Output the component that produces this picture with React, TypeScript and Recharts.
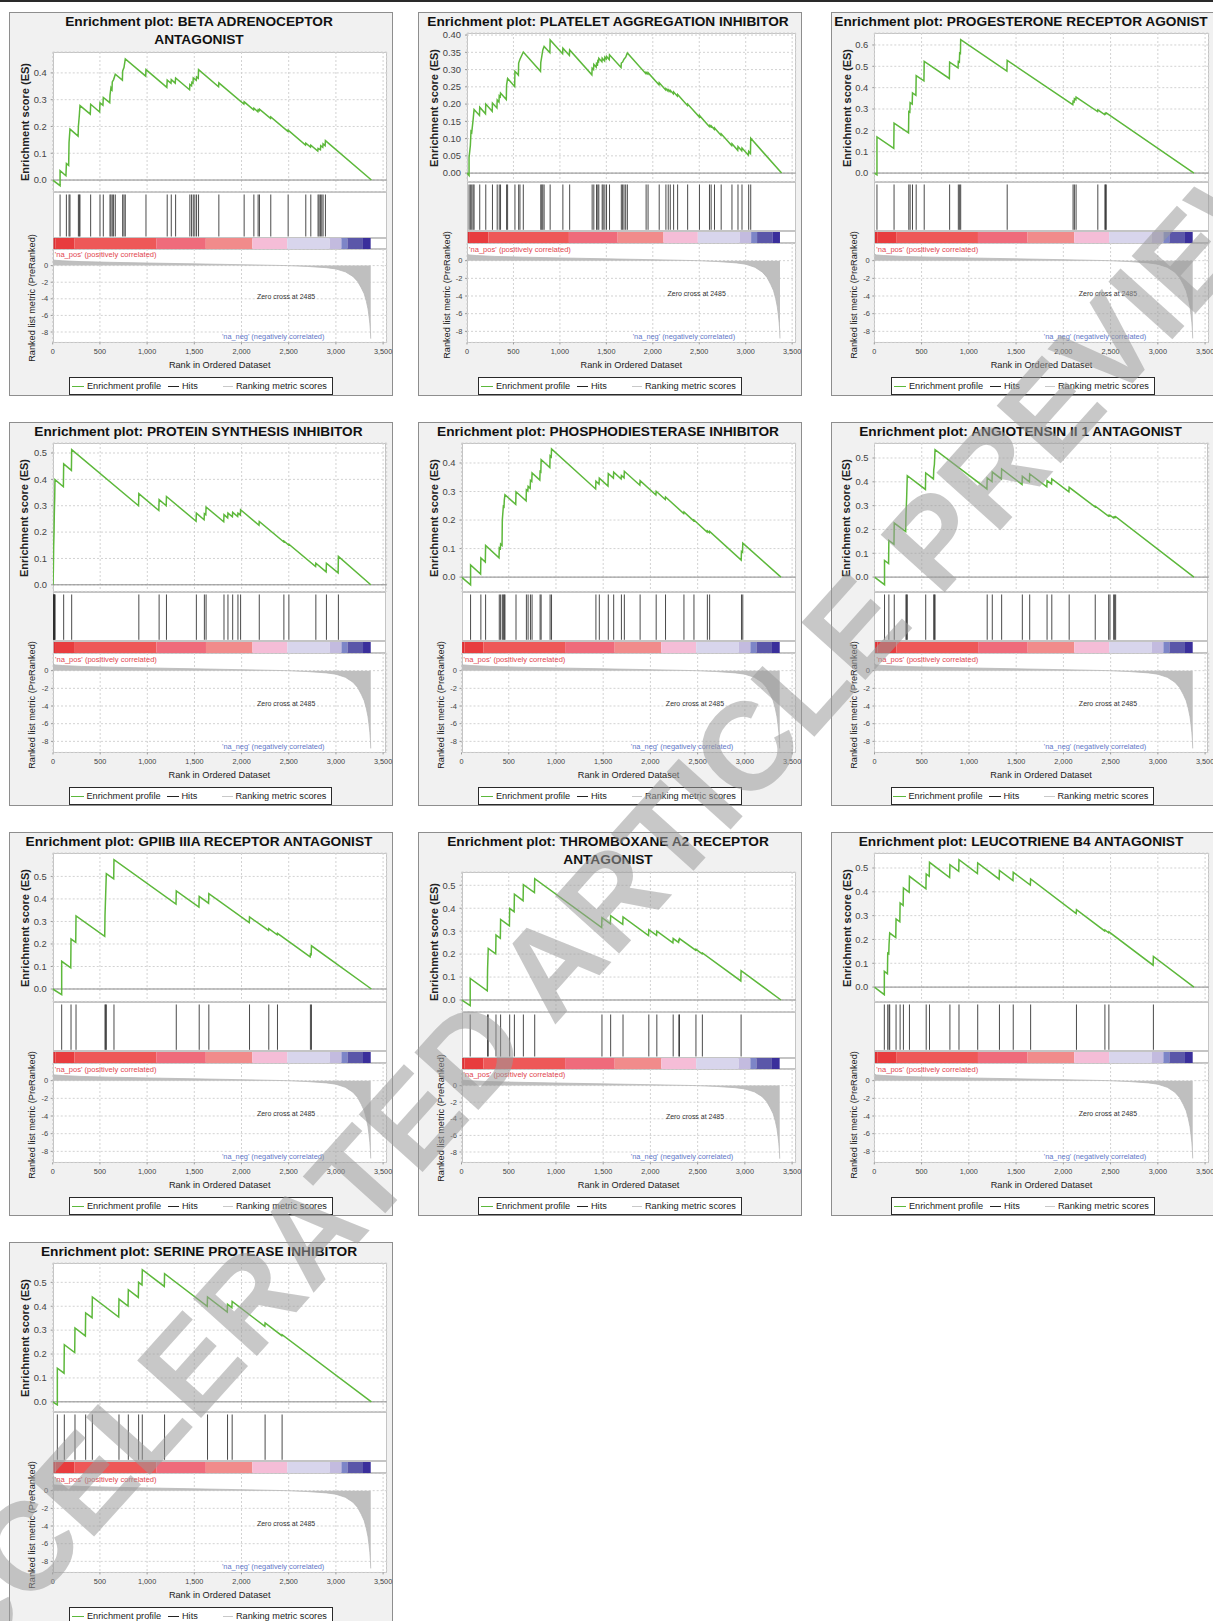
import React from 'react';
import {
  LineChart, Line, XAxis, YAxis, CartesianGrid, ReferenceLine, ReferenceDot,
  ScatterChart, Scatter, BarChart, Bar, AreaChart, Area,
} from 'recharts';

const FONT = '"Liberation Sans", Arial, Helvetica, sans-serif';

// ---------- shared axes / ranked list ----------
const rankTicks = [0, 500, 1000, 1500, 2000, 2500, 3000, 3500];
const rankDomain: [number, number] = [0, 3538];
const metricTicks = [0, -2, -4, -6, -8];
const metricDomain: [number, number] = [-9.25, 2];

const rankedMetric = [
  [0, 0.78], [20, 0.65], [100, 0.58], [300, 0.48], [600, 0.4], [1000, 0.31], [1500, 0.21],
  [2000, 0.11], [2485, 0], [2700, -0.1], [2900, -0.25], [3000, -0.4], [3100, -0.75],
  [3180, -1.3], [3230, -1.9], [3270, -2.7], [3300, -3.4], [3323, -4.3], [3340, -5.2],
  [3351, -6.1], [3360, -7.0], [3366, -7.9], [3369, -8.8],
];

const colorBarEdges = [0, 25, 226, 1093, 1619, 2113, 2483, 2935, 3058, 3122, 3287, 3369];
const colorBarFills = ['#dc2f33', '#e83c3e', '#ee5858', '#ef6b7b', '#f18b8b', '#f5bdd7', '#d8d5ec', '#c3bbdf', '#7d85c7', '#5b57a9', '#3a2f9b'];

const watermarkText = 'ACCELERATED ARTICLE PREVIEW';

// ---------- enrichment profiles (rank, ES) and hits ----------
const betaEs = [
  [0, 0], [78, -0.021], [78, 0.035], [140, 0.016], [145, 0.062], [169, 0.055], [173, 0.14], [183, 0.19],
  [269, 0.164], [272, 0.2], [282, 0.242], [289, 0.278], [398, 0.246], [402, 0.283], [497, 0.254], [501, 0.288],
  [532, 0.279], [536, 0.308], [604, 0.289], [607, 0.317], [617, 0.345], [628, 0.338], [631, 0.366], [645, 0.375],
  [663, 0.395], [738, 0.373], [741, 0.407], [755, 0.42], [769, 0.452], [985, 0.388], [988, 0.412], [1209, 0.346],
  [1213, 0.373], [1253, 0.361], [1256, 0.375], [1298, 0.362], [1302, 0.381], [1450, 0.337], [1453, 0.357],
  [1471, 0.352], [1474, 0.365], [1486, 0.362], [1489, 0.381], [1521, 0.372], [1524, 0.385], [1542, 0.38],
  [1545, 0.412], [1757, 0.348], [1760, 0.363], [2025, 0.284], [2028, 0.292], [2128, 0.262], [2131, 0.268],
  [2173, 0.255], [2176, 0.262], [2187, 0.259], [2190, 0.265], [2307, 0.23], [2310, 0.236], [2491, 0.182],
  [2494, 0.186], [2678, 0.131], [2681, 0.138], [2731, 0.123], [2734, 0.13], [2808, 0.108], [2811, 0.118],
  [2836, 0.113], [2839, 0.128], [2861, 0.122], [2864, 0.135], [2886, 0.128], [2889, 0.147], [3376, 0],
];
const betaHits = [78, 145, 173, 183, 272, 282, 289, 402, 501, 536, 607, 617, 631, 645, 663, 741, 755, 769, 988, 1213, 1256, 1302, 1453, 1471, 1489, 1506, 1524, 1545, 1760, 2028, 2131, 2176, 2190, 2310, 2494, 2681, 2734, 2811, 2822, 2836, 2850, 2864, 2889];

const plateletEs = [
  [0, 0], [22, -0.007], [22, 0.045], [36, 0.08], [43, 0.121], [51, 0.118], [65, 0.153], [76, 0.184],
  [134, 0.167], [137, 0.191], [199, 0.172], [202, 0.2], [271, 0.179], [274, 0.203], [322, 0.189], [325, 0.212],
  [344, 0.206], [347, 0.224], [358, 0.221], [361, 0.232], [423, 0.213], [426, 0.255], [437, 0.274], [513, 0.251],
  [516, 0.295], [553, 0.284], [556, 0.319], [570, 0.33], [606, 0.351], [791, 0.295], [794, 0.32], [805, 0.338],
  [816, 0.357], [830, 0.367], [892, 0.349], [895, 0.386], [1029, 0.346], [1032, 0.362], [1102, 0.341],
  [1105, 0.357], [1344, 0.285], [1347, 0.304], [1362, 0.3], [1365, 0.315], [1391, 0.307], [1394, 0.318],
  [1405, 0.315], [1408, 0.325], [1416, 0.323], [1419, 0.333], [1452, 0.323], [1455, 0.333], [1481, 0.325],
  [1484, 0.336], [1499, 0.331], [1502, 0.338], [1531, 0.329], [1534, 0.343], [1658, 0.306], [1661, 0.319],
  [1675, 0.322], [1690, 0.33], [1708, 0.336], [1726, 0.348], [1925, 0.288], [1928, 0.292], [1946, 0.287],
  [1949, 0.291], [2066, 0.256], [2069, 0.262], [2138, 0.241], [2141, 0.245], [2163, 0.238], [2166, 0.242],
  [2185, 0.236], [2188, 0.24], [2221, 0.23], [2224, 0.235], [2264, 0.223], [2267, 0.228], [2372, 0.196],
  [2375, 0.2], [2499, 0.163], [2502, 0.167], [2607, 0.135], [2610, 0.138], [2625, 0.134], [2628, 0.137],
  [2661, 0.127], [2664, 0.131], [2733, 0.11], [2736, 0.114], [2849, 0.08], [2852, 0.085], [2914, 0.066],
  [2917, 0.077], [2957, 0.065], [2960, 0.073], [3029, 0.052], [3032, 0.063], [3051, 0.057], [3054, 0.101], [3386, 0],
];
const plateletHits = [22, 36, 51, 65, 76, 137, 202, 274, 325, 347, 361, 426, 437, 516, 556, 570, 606, 794, 805, 816, 830, 895, 1032, 1105, 1347, 1365, 1394, 1408, 1419, 1455, 1466, 1484, 1502, 1534, 1661, 1675, 1690, 1708, 1726, 1928, 1949, 2069, 2141, 2166, 2188, 2224, 2267, 2375, 2502, 2610, 2628, 2664, 2736, 2852, 2917, 2960, 3032, 3054];

const progEs = [
  [0, 0], [28, -0.008], [28, 0.169], [206, 0.116], [209, 0.234], [362, 0.188], [365, 0.288], [376, 0.285],
  [379, 0.33], [401, 0.323], [404, 0.375], [440, 0.364], [443, 0.456], [525, 0.432], [528, 0.523], [794, 0.443],
  [797, 0.52], [886, 0.493], [889, 0.522], [900, 0.519], [903, 0.562], [911, 0.56], [914, 0.625], [1403, 0.478],
  [1406, 0.528], [2100, 0.32], [2103, 0.336], [2114, 0.333], [2117, 0.348], [2132, 0.343], [2135, 0.356],
  [2362, 0.288], [2365, 0.296], [2437, 0.274], [2440, 0.278], [2444, 0.277], [2447, 0.28], [2451, 0.279],
  [2454, 0.282], [3382, 0],
];
const progHits = [28, 209, 365, 379, 404, 443, 528, 797, 889, 903, 914, 1406, 2103, 2117, 2135, 2365, 2440, 2447, 2454];

const proteinEs = [
  [0, 0], [4, 0.06], [7, 0.146], [11, 0.2], [14, 0.272], [18, 0.33], [21, 0.399], [110, 0.372], [113, 0.459],
  [195, 0.434], [198, 0.513], [907, 0.3], [910, 0.346], [1122, 0.282], [1125, 0.323], [1200, 0.3], [1203, 0.335],
  [1517, 0.241], [1520, 0.272], [1602, 0.247], [1605, 0.27], [1620, 0.266], [1623, 0.295], [1810, 0.239],
  [1813, 0.266], [1852, 0.254], [1855, 0.272], [1902, 0.258], [1905, 0.275], [1958, 0.259], [1961, 0.272],
  [1986, 0.265], [1989, 0.285], [2184, 0.226], [2187, 0.24], [2445, 0.163], [2448, 0.166], [2498, 0.151],
  [2501, 0.154], [2784, 0.069], [2787, 0.082], [2896, 0.049], [2899, 0.082], [3023, 0.045], [3026, 0.108], [3369, 0],
];
const proteinHits = [4, 7, 11, 14, 18, 21, 113, 198, 910, 1125, 1203, 1520, 1605, 1623, 1813, 1855, 1905, 1961, 1989, 2187, 2448, 2501, 2787, 2899, 3026];

const phosphoEs = [
  [0, 0], [96, -0.027], [96, 0.043], [202, 0.011], [205, 0.067], [252, 0.053], [255, 0.111], [397, 0.068],
  [400, 0.103], [411, 0.1], [414, 0.116], [429, 0.111], [432, 0.2], [443, 0.248], [450, 0.246], [453, 0.27],
  [460, 0.289], [574, 0.255], [577, 0.299], [684, 0.267], [687, 0.306], [702, 0.302], [705, 0.318], [727, 0.311],
  [730, 0.339], [744, 0.335], [747, 0.365], [829, 0.34], [832, 0.37], [840, 0.368], [843, 0.412], [935, 0.384],
  [938, 0.425], [950, 0.421], [953, 0.449], [1420, 0.309], [1423, 0.336], [1456, 0.326], [1459, 0.347],
  [1551, 0.319], [1554, 0.363], [1608, 0.347], [1611, 0.368], [1690, 0.344], [1693, 0.356], [1721, 0.348],
  [1724, 0.371], [1888, 0.322], [1891, 0.338], [2058, 0.288], [2061, 0.301], [2157, 0.272], [2160, 0.281],
  [2352, 0.223], [2355, 0.228], [2458, 0.197], [2461, 0.2], [2600, 0.158], [2603, 0.162], [2624, 0.156],
  [2627, 0.16], [2961, 0.06], [2964, 0.09], [2975, 0.087], [2978, 0.119], [3382, 0],
];
const phosphoHits = [96, 205, 255, 400, 414, 432, 443, 453, 460, 577, 687, 705, 730, 747, 832, 843, 938, 953, 1423, 1459, 1554, 1611, 1693, 1724, 1891, 2061, 2160, 2355, 2461, 2603, 2627, 2964, 2978];

const angioEs = [
  [0, 0], [106, -0.032], [106, 0.07], [149, 0.057], [152, 0.154], [206, 0.138], [209, 0.227], [330, 0.191],
  [333, 0.26], [340, 0.33], [347, 0.426], [539, 0.368], [542, 0.437], [624, 0.412], [627, 0.45], [634, 0.472],
  [641, 0.535], [1190, 0.37], [1193, 0.416], [1244, 0.401], [1247, 0.441], [1343, 0.412], [1346, 0.454],
  [1562, 0.389], [1565, 0.423], [1640, 0.4], [1643, 0.433], [1824, 0.379], [1827, 0.405], [1874, 0.391],
  [1877, 0.412], [2058, 0.358], [2061, 0.377], [2334, 0.295], [2337, 0.298], [2476, 0.256], [2479, 0.259],
  [2490, 0.256], [2493, 0.26], [2529, 0.249], [2532, 0.252], [2539, 0.25], [2542, 0.253], [2550, 0.251],
  [2553, 0.254], [3382, 0],
];
const angioHits = [106, 152, 209, 333, 340, 347, 542, 627, 634, 641, 1193, 1247, 1346, 1565, 1643, 1827, 1877, 2061, 2337, 2479, 2493, 2532, 2542, 2553];

const gpEs = [
  [0, 0], [95, -0.025], [95, 0.123], [191, 0.094], [194, 0.222], [244, 0.207], [247, 0.325], [551, 0.234],
  [554, 0.325], [561, 0.419], [568, 0.512], [646, 0.489], [649, 0.574], [1306, 0.377], [1309, 0.436],
  [1549, 0.364], [1552, 0.411], [1651, 0.381], [1654, 0.423], [2082, 0.295], [2085, 0.32], [2286, 0.26],
  [2289, 0.268], [2378, 0.241], [2381, 0.247], [2727, 0.143], [2730, 0.155], [2738, 0.153], [2741, 0.192], [3376, 0],
];
const gpHits = [95, 194, 247, 554, 561, 568, 649, 1309, 1552, 1654, 2085, 2289, 2381, 2730, 2741];

const thrombEs = [
  [0, 0], [92, -0.025], [92, 0.094], [273, 0.04], [276, 0.133], [283, 0.225], [362, 0.201], [365, 0.283],
  [411, 0.269], [414, 0.351], [507, 0.323], [510, 0.399], [557, 0.385], [560, 0.461], [652, 0.433], [655, 0.503],
  [772, 0.468], [775, 0.529], [1484, 0.316], [1487, 0.359], [1576, 0.332], [1579, 0.368], [1707, 0.33],
  [1710, 0.362], [1980, 0.281], [1983, 0.307], [2065, 0.282], [2068, 0.3], [2238, 0.249], [2241, 0.268],
  [2298, 0.251], [2301, 0.262], [2305, 0.261], [2308, 0.268], [2479, 0.217], [2482, 0.221], [2547, 0.201],
  [2550, 0.205], [2957, 0.083], [2960, 0.128], [3382, 0],
];
const thrombHits = [92, 276, 283, 365, 414, 510, 560, 655, 775, 1487, 1579, 1710, 1983, 2068, 2241, 2301, 2308, 2482, 2550, 2960];

const leucoEs = [
  [0, 0], [106, -0.032], [106, 0.066], [139, 0.056], [142, 0.143], [153, 0.14], [156, 0.18], [163, 0.227],
  [227, 0.208], [230, 0.286], [270, 0.274], [273, 0.353], [305, 0.343], [308, 0.416], [369, 0.398], [372, 0.465],
  [546, 0.413], [549, 0.475], [581, 0.465], [584, 0.524], [797, 0.46], [800, 0.514], [893, 0.486], [896, 0.535],
  [1091, 0.477], [1094, 0.521], [1321, 0.453], [1324, 0.49], [1467, 0.447], [1470, 0.482], [1651, 0.428],
  [1654, 0.454], [2136, 0.309], [2139, 0.325], [2437, 0.236], [2440, 0.24], [2479, 0.228], [2482, 0.232],
  [2950, 0.092], [2953, 0.129], [3382, 0],
];
const leucoHits = [106, 142, 156, 163, 230, 273, 308, 372, 549, 584, 800, 896, 1094, 1324, 1470, 1654, 2139, 2440, 2482, 2953];

const serineEs = [
  [0, 0], [49, -0.013], [49, 0.141], [120, 0.12], [123, 0.239], [233, 0.206], [236, 0.309], [346, 0.276],
  [349, 0.372], [417, 0.352], [420, 0.439], [699, 0.355], [702, 0.43], [798, 0.401], [801, 0.469], [907, 0.437],
  [910, 0.5], [946, 0.489], [949, 0.553], [1182, 0.483], [1185, 0.536], [1637, 0.4], [1640, 0.439], [1849, 0.376],
  [1852, 0.408], [1898, 0.394], [1901, 0.42], [2247, 0.316], [2250, 0.33], [2427, 0.277], [2430, 0.281], [3376, 0],
];
const serineHits = [49, 123, 236, 349, 420, 702, 801, 910, 949, 1185, 1640, 1852, 1901, 2250, 2430];

const esTicks1 = [0, 0.1, 0.2, 0.3, 0.4];
const esTicks2 = [0, 0.05, 0.1, 0.15, 0.2, 0.25, 0.3, 0.35, 0.4];
const esTicks3 = [0, 0.1, 0.2, 0.3, 0.4, 0.5, 0.6];
const esTicks4 = [0, 0.1, 0.2, 0.3, 0.4, 0.5];

type PanelDef = {
  titles: string[]; left: number; top: number; plotLeft: number;
  esDomain: [number, number]; esTicks: number[]; decimals: number;
  es: number[][]; hits: number[];
};

const panels: PanelDef[] = [
  { titles: ['Enrichment plot: BETA ADRENOCEPTOR', 'ANTAGONIST'], left: 9, top: 12, plotLeft: 43.7, esDomain: [-0.0435, 0.478], esTicks: esTicks1, decimals: 1, es: betaEs, hits: betaHits },
  { titles: ['Enrichment plot: PLATELET AGGREGATION INHIBITOR'], left: 418, top: 12, plotLeft: 49, esDomain: [-0.024, 0.406], esTicks: esTicks2, decimals: 2, es: plateletEs, hits: plateletHits },
  { titles: ['Enrichment plot: PROGESTERONE RECEPTOR AGONIST'], left: 831, top: 12, plotLeft: 43.3, esDomain: [-0.039, 0.656], esTicks: esTicks3, decimals: 1, es: progEs, hits: progHits },
  { titles: ['Enrichment plot: PROTEIN SYNTHESIS INHIBITOR'], left: 8.5, top: 422, plotLeft: 44, esDomain: [-0.025, 0.538], esTicks: esTicks4, decimals: 1, es: proteinEs, hits: proteinHits },
  { titles: ['Enrichment plot: PHOSPHODIESTERASE INHIBITOR'], left: 418, top: 422, plotLeft: 43.5, esDomain: [-0.05, 0.47], esTicks: esTicks1, decimals: 1, es: phosphoEs, hits: phosphoHits },
  { titles: ['Enrichment plot: ANGIOTENSIN II 1 ANTAGONIST'], left: 830.5, top: 422, plotLeft: 43.5, esDomain: [-0.06, 0.563], esTicks: esTicks4, decimals: 1, es: angioEs, hits: angioHits },
  { titles: ['Enrichment plot: GPIIB IIIA RECEPTOR ANTAGONIST'], left: 9, top: 832, plotLeft: 43.7, esDomain: [-0.055, 0.604], esTicks: esTicks4, decimals: 1, es: gpEs, hits: gpHits },
  { titles: ['Enrichment plot: THROMBOXANE A2 RECEPTOR', 'ANTAGONIST'], left: 418, top: 832, plotLeft: 43.5, esDomain: [-0.051, 0.558], esTicks: esTicks4, decimals: 1, es: thrombEs, hits: thrombHits },
  { titles: ['Enrichment plot: LEUCOTRIENE B4 ANTAGONIST'], left: 831, top: 832, plotLeft: 43.3, esDomain: [-0.06, 0.563], esTicks: esTicks4, decimals: 1, es: leucoEs, hits: leucoHits },
  { titles: ['Enrichment plot: SERINE PROTEASE INHIBITOR'], left: 9, top: 1242, plotLeft: 43.7, esDomain: [-0.04, 0.581], esTicks: esTicks4, decimals: 1, es: serineEs, hits: serineHits },
];

const PANEL = 384;
const PLOT_RIGHT = 377.7;
const ES_PAD = 8;
const LAYOUT_ONE = { titleY: [9.7], esTop: 21.3, esBottom: 169.7, hitsBottom: 219, barBottom: 231.3, metricBottom: 330.7 };
const LAYOUT_TWO = { titleY: [9.7, 28], esTop: 40, esBottom: 179.7, hitsBottom: 225.7, barBottom: 237.3, metricBottom: 330.7 };

function Txt(props: { x: number; y: number; size: number; bold?: boolean; color?: string; anchor?: 'start' | 'middle' | 'end'; rotate?: boolean; children: React.ReactNode }) {
  const { x, y, size, bold, color = '#222', anchor = 'middle', rotate, children } = props;
  const tx = anchor === 'middle' ? '-50%' : anchor === 'end' ? '-100%' : '0';
  return (
    <div style={{
      position: 'absolute', left: x, top: y,
      transform: rotate ? 'translate(-50%,-50%) rotate(-90deg)' : `translate(${tx},-50%)`,
      fontSize: size, lineHeight: `${Math.round(size * 1.2)}px`, fontWeight: bold ? 700 : 400,
      color, whiteSpace: 'nowrap', fontFamily: FONT,
    }}>{children}</div>
  );
}

function Panel({ def }: { def: PanelDef }) {
  const L = def.titles.length > 1 ? LAYOUT_TWO : LAYOUT_ONE;
  const pl = def.plotLeft;
  const pw = PLOT_RIGHT - pl;
  const mr = PANEL - PLOT_RIGHT;
  const esH = L.esBottom - L.esTop;
  const hitsH = L.hitsBottom - L.esBottom;
  const barH = L.barBottom - L.hitsBottom;
  const metH = L.metricBottom - L.barBottom;
  const xAxisH = 16;

  const esData = def.es.map(([x, v]) => ({ x, es: v }));
  const hitData = def.hits.map((x) => ({ x, y: 0.5 }));
  const barRow: Record<string, any> = { name: 'bar' };
  colorBarEdges.slice(1).forEach((e, i) => { barRow['s' + i] = e - colorBarEdges[i]; });
  const metricData = rankedMetric.map(([x, m]) => ({ x, m }));

  const box = (top: number, h: number, key: string) => (
    <div key={key} style={{ position: 'absolute', left: pl, top, width: pw, height: h, background: '#fff', border: '1px solid #c4c4c4', boxSizing: 'border-box' }} />
  );

  const hitShape = (props: any) => {
    const { cx, cy } = props;
    if (cx == null || cy == null) return <g />;
    return <line x1={cx} x2={cx} y1={cy - hitsH / 2 + 2.5} y2={cy + hitsH / 2 - 1.5} stroke="#2a2a2a" strokeWidth={0.85} />;
  };

  const tickStyle = { fill: '#444', fontFamily: FONT };

  return (
    <div style={{ position: 'absolute', left: def.left, top: def.top, width: PANEL, height: PANEL, background: '#f1f1f1' }}>
      <div style={{ position: 'absolute', left: 0, top: 0, width: PANEL, height: PANEL, border: '1px solid #8e8e8e', boxSizing: 'border-box' }} />
      {def.titles.map((t, i) => (
        <Txt key={t} x={190} y={L.titleY[i]} size={13.7} bold color="#111">{t}</Txt>
      ))}
      {box(L.esTop, esH, 'b1')}
      {box(L.esBottom, hitsH, 'b2')}
      {box(L.hitsBottom, barH, 'b3')}
      {box(L.barBottom, metH, 'b4')}

      <div style={{ position: 'absolute', left: 0, top: L.esTop - ES_PAD }}>
        <LineChart width={PANEL} height={esH + 2 * ES_PAD} data={esData} margin={{ top: ES_PAD, right: mr, bottom: ES_PAD, left: 0 }}>
          <CartesianGrid stroke="#d2d2d2" strokeDasharray="2 2" />
          <XAxis type="number" dataKey="x" domain={rankDomain} ticks={rankTicks} hide allowDataOverflow />
          <YAxis type="number" domain={def.esDomain} ticks={def.esTicks} width={pl} allowDataOverflow interval={0}
            tickFormatter={(v: any) => Number(v).toFixed(def.decimals)}
            tick={{ ...tickStyle, fontSize: 9.4 }} tickSize={2} tickMargin={4} axisLine={false} tickLine={{ stroke: '#999' }} />
          <ReferenceLine y={0} stroke="#8c8c8c" strokeWidth={1} />
          <Line type="linear" dataKey="es" stroke="#5db83b" strokeWidth={1.5} dot={false} isAnimationActive={false} />
        </LineChart>
      </div>

      <div style={{ position: 'absolute', left: 0, top: L.esBottom }}>
        <ScatterChart width={PANEL} height={hitsH} margin={{ top: 0, right: mr, bottom: 0, left: pl }}>
          <XAxis type="number" dataKey="x" domain={rankDomain} hide allowDataOverflow />
          <YAxis type="number" dataKey="y" domain={[0, 1]} hide />
          <Scatter data={hitData} shape={hitShape} isAnimationActive={false} />
        </ScatterChart>
      </div>

      <div style={{ position: 'absolute', left: 0, top: L.hitsBottom + 0.5 }}>
        <BarChart layout="vertical" width={PANEL} height={barH - 1} data={[barRow]} margin={{ top: 0, right: mr, bottom: 0, left: pl + 0.5 }} barCategoryGap={0} barGap={0}>
          <XAxis type="number" domain={rankDomain} hide allowDataOverflow />
          <YAxis type="category" dataKey="name" hide />
          {colorBarFills.map((c, i) => (
            <Bar key={'s' + i} dataKey={'s' + i} stackId="cb" fill={c} isAnimationActive={false} />
          ))}
        </BarChart>
      </div>

      <div style={{ position: 'absolute', left: 0, top: L.barBottom }}>
        <AreaChart width={PANEL} height={metH + xAxisH} data={metricData} margin={{ top: 0, right: mr, bottom: 0, left: 0 }}>
          <CartesianGrid stroke="#d2d2d2" strokeDasharray="2 2" />
          <XAxis type="number" dataKey="x" domain={rankDomain} ticks={rankTicks} height={xAxisH} interval={0} allowDataOverflow
            tickFormatter={(v: any) => Number(v).toLocaleString('en-US')}
            tick={{ ...tickStyle, fontSize: 7.3 }} tickSize={2} tickMargin={4} axisLine={false} tickLine={{ stroke: '#999' }} />
          <YAxis type="number" domain={metricDomain} ticks={metricTicks} width={pl} allowDataOverflow interval={0}
            tick={{ ...tickStyle, fontSize: 7.5 }} tickSize={2} tickMargin={2.5} axisLine={false} tickLine={{ stroke: '#999' }} />
          <Area type="linear" dataKey="m" baseValue={0} stroke="#b8b8b8" strokeWidth={0.8} fill="#bfbfbf" fillOpacity={1} isAnimationActive={false} />
          <ReferenceDot x={0} y={1.33} r={0.01} fill="none" stroke="none"
            label={{ value: "'na_pos' (positively correlated)", position: 'right', offset: 2, fontSize: 7.6, fill: '#e2464f', fontFamily: FONT }} />
          <ReferenceDot x={2472} y={-3.72} r={0.01} fill="none" stroke="none"
            label={{ value: 'Zero cross at 2485', position: 'center', fontSize: 7, fill: '#333', fontFamily: FONT }} />
          <ReferenceDot x={2335} y={-8.52} r={0.01} fill="none" stroke="none"
            label={{ value: "'na_neg' (negatively correlated)", position: 'center', fontSize: 7.4, fill: '#6478c8', fontFamily: FONT }} />
        </AreaChart>
      </div>

      <Txt x={15.5} y={(L.esTop + L.esBottom) / 2} size={11} bold rotate color="#222">Enrichment score (ES)</Txt>
      <Txt x={pl - 20.5} y={(L.barBottom + L.metricBottom) / 2 + 1.5} size={9.2} rotate color="#222">Ranked list metric (PreRanked)</Txt>
      <Txt x={pl + pw / 2} y={353} size={9.2} color="#222">Rank in Ordered Dataset</Txt>

      <div style={{ position: 'absolute', left: 60.3, top: 364.7, width: 263.4, height: 18.3, background: '#fff', border: '1.3px solid #2a2a2a', boxSizing: 'border-box' }}>
        <div style={{ position: 'absolute', left: 1.7, top: 8, width: 12.3, height: 1.6, background: '#5db83b' }} />
        <Txt x={16.7} y={8.6} size={9.2} anchor="start">Enrichment profile</Txt>
        <div style={{ position: 'absolute', left: 97.4, top: 8, width: 11.6, height: 1.4, background: '#222' }} />
        <Txt x={111.7} y={8.6} size={9.2} anchor="start">Hits</Txt>
        <div style={{ position: 'absolute', left: 152.4, top: 8, width: 10.6, height: 1.4, background: '#c8c8c8' }} />
        <Txt x={165.7} y={8.6} size={9.2} anchor="start">Ranking metric scores</Txt>
      </div>
    </div>
  );
}

export default function App() {
  return (
    <div style={{ position: 'absolute', left: 0, top: 0, width: 1213, height: 1621, overflow: 'hidden', background: '#fff', fontFamily: FONT }}>
      <div style={{ position: 'absolute', left: 0, top: 0, width: 1213, height: 2, background: '#2a2a2a' }} />
      {panels.map((p) => <Panel key={p.titles.join(' ')} def={p} />)}
      <svg width={1213} height={1621} style={{ position: 'absolute', left: 0, top: 0, pointerEvents: 'none' }}>
        <text x={-125} y={1715} transform="rotate(-48 -125 1715)" fontSize={125} fontWeight={700}
          fontFamily={FONT} fill="#9a9a9a" fillOpacity={0.55} dominantBaseline="central">{watermarkText}</text>
      </svg>
    </div>
  );
}
